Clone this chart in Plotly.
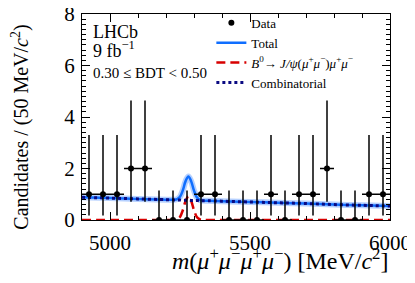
import plotly.graph_objects as go

# ---- data ----
bin_centers = [4925, 4975, 5025, 5075, 5125, 5175, 5225, 5275, 5325, 5375, 5425,
               5475, 5525, 5575, 5625, 5675, 5725, 5775, 5825, 5875, 5925, 5975]
counts = [1, 1, 1, 2, 2, 0, 0, 0, 1, 1, 0, 0, 0, 1, 0, 1, 1, 2, 0, 0, 1, 1]
err_up_by_n = {0: 1.15, 1: 2.30, 2: 2.64}
err_lo_by_n = {0: 0.0, 1: 0.83, 2: 1.29}
half_bin = [25] * len(bin_centers)

curve_mass = [4900, 5000, 5100, 5200, 5230, 5240, 5250, 5260, 5270, 5280, 5290,
              5300, 5310, 5320, 5330, 5350, 5400, 5500, 5600, 5700, 5800, 5900, 6000]
comb_vals = [0.88, 0.85, 0.82, 0.79, 0.78, 0.78, 0.78, 0.77, 0.77, 0.77, 0.76,
             0.76, 0.76, 0.75, 0.75, 0.75, 0.73, 0.70, 0.67, 0.64, 0.60, 0.57, 0.54]
signal_vals = [0, 0, 0, 0, 0.005, 0.03, 0.12, 0.38, 0.74, 0.92, 0.74,
               0.38, 0.12, 0.03, 0.005, 0, 0, 0, 0, 0, 0, 0, 0]
total_vals = [c + s for c, s in zip(comb_vals, signal_vals)]

err_up = [err_up_by_n[n] for n in counts]
err_lo = [err_lo_by_n[n] for n in counts]

FONT = "Liberation Serif"
BLUE = "rgb(15,110,255)"
RED = "rgb(215,0,0)"
NAVY = "rgb(10,10,130)"

fig = go.Figure()

fig.add_trace(go.Scatter(
    x=curve_mass, y=signal_vals, mode="lines", line_shape="spline",
    line=dict(color=RED, width=2.5, dash="9px,5px"), showlegend=False,
    hoverinfo="skip"))
fig.add_trace(go.Scatter(
    x=curve_mass, y=total_vals, mode="lines", line_shape="spline",
    line=dict(color="rgba(120,170,255,0.55)", width=6), showlegend=False,
    hoverinfo="skip"))
fig.add_trace(go.Scatter(
    x=curve_mass, y=total_vals, mode="lines", line_shape="spline",
    line=dict(color=BLUE, width=2.5), showlegend=False, hoverinfo="skip"))
fig.add_trace(go.Scatter(
    x=curve_mass, y=comb_vals, mode="lines", line_shape="spline",
    line=dict(color=NAVY, width=3, dash="dot"), showlegend=False,
    hoverinfo="skip"))

fig.add_trace(go.Scatter(
    x=bin_centers, y=counts, mode="markers", name="Data",
    marker=dict(color="black", size=6),
    error_y=dict(type="data", symmetric=False, array=err_up, arrayminus=err_lo,
                 color="black", thickness=1.5, width=0),
    error_x=dict(type="data", array=half_bin, color="black", thickness=1.5, width=0)))

# legend entries
fig.add_trace(go.Scatter(x=[None], y=[None], mode="lines", name="Total",
                         line=dict(color=BLUE, width=2.5)))
fig.add_trace(go.Scatter(x=[None], y=[None], mode="lines",
                         name="<i>B</i><sup>0</sup>→ <i>J/ψ</i>(<i>μ</i><sup>+</sup><i>μ</i><sup>−</sup>)<i>μ</i><sup>+</sup><i>μ</i><sup>−</sup>",
                         line=dict(color=RED, width=2.5, dash="9px,5px")))
fig.add_trace(go.Scatter(x=[None], y=[None], mode="lines", name="Combinatorial",
                         line=dict(color=NAVY, width=3, dash="dot")))

axis_common = dict(
    showline=True, linecolor="black", linewidth=1, mirror="ticks",
    ticks="inside", ticklen=8, tickcolor="black", tickwidth=1,
    showgrid=False, zeroline=False, automargin=False,
    ticklabeloverflow="allow",
    tickfont=dict(family=FONT, size=21, color="black"),
)

fig.update_xaxes(range=[4900, 6000], tickvals=[5000, 5500, 6000],
                 minor=dict(dtick=100, tick0=5000, ticks="inside", ticklen=4,
                            tickcolor="black"),
                 ticklabelstandoff=4, **axis_common)
fig.update_yaxes(range=[0, 8], tickvals=[0, 2, 4, 6, 8],
                 minor=dict(dtick=0.2, tick0=0, ticks="inside", ticklen=4,
                            tickcolor="black"),
                 ticklabelstandoff=2, **axis_common)

fig.update_layout(
    width=407, height=275,
    margin=dict(l=74, r=25, t=6, b=63, autoexpand=False),
    plot_bgcolor="white", paper_bgcolor="white",
    font=dict(family=FONT, color="black"),
    legend=dict(x=0.42, y=1.03, xanchor="left", yanchor="top",
                bgcolor="rgba(0,0,0,0)", font=dict(family=FONT, size=13),
                tracegroupgap=0, itemwidth=30),
    annotations=[
        dict(text="LHCb", x=0.03, y=0.915, xref="paper", yref="paper",
             xanchor="left", yanchor="middle", showarrow=False,
             font=dict(family=FONT, size=18)),
        dict(text="9 fb<sup>−1</sup>", x=0.03, y=0.83, xref="paper", yref="paper",
             xanchor="left", yanchor="middle", showarrow=False,
             font=dict(family=FONT, size=18)),
        dict(text="0.30 ≤ BDT < 0.50", x=0.03, y=0.714, xref="paper", yref="paper",
             xanchor="left", yanchor="middle", showarrow=False,
             font=dict(family=FONT, size=15)),
        dict(text="Candidates / (50 MeV/<i>c</i><sup>2</sup>)", x=-0.20, y=0.45,
             xref="paper", yref="paper", xanchor="center", yanchor="middle",
             textangle=-90, showarrow=False, font=dict(family=FONT, size=20)),
        dict(text="<i>m</i>(<i>μ</i><sup>+</sup><i>μ</i><sup>−</sup><i>μ</i><sup>+</sup><i>μ</i><sup>−</sup>) [MeV/<i>c</i><sup>2</sup>]",
             x=1.0, y=-0.19, xref="paper", yref="paper", xanchor="right",
             yanchor="middle", showarrow=False, font=dict(family=FONT, size=24)),
    ],
)

fig.write_html("out.html")
